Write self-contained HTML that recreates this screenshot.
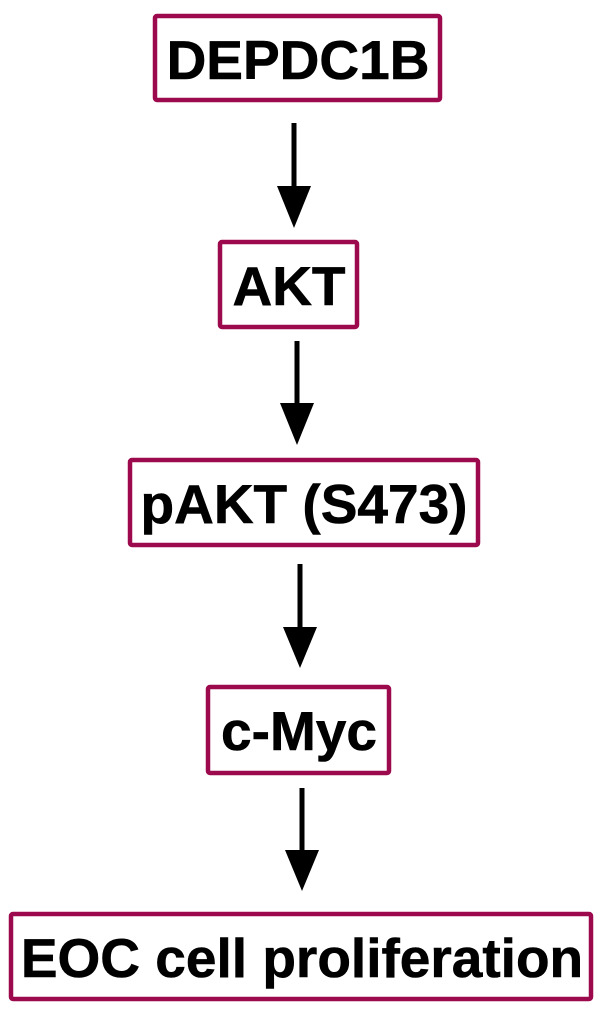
<!DOCTYPE html>
<html><head><style>html,body{margin:0;padding:0;background:#fff}</style></head>
<body>
<svg width="600" height="1014" viewBox="0 0 600 1014" xmlns="http://www.w3.org/2000/svg">
<g fill="#fff" stroke="#9c0a4d" stroke-width="4.5">
<rect x="155" y="16" width="285" height="84" rx="2"/>
<rect x="220" y="242" width="137" height="85" rx="2"/>
<rect x="130" y="460" width="348" height="85" rx="2"/>
<rect x="208" y="687" width="181" height="86" rx="2"/>
<rect x="11" y="914" width="580" height="85" rx="2"/>
</g>
<g stroke="#000" stroke-width="5">
<line x1="294" y1="123" x2="294" y2="190"/>
<line x1="297" y1="341" x2="297" y2="406"/>
<line x1="300" y1="564" x2="300" y2="630"/>
<line x1="302" y1="788" x2="302" y2="853"/>
</g>
<g fill="#000">
<polygon points="277,186 311,186 294,228"/>
<polygon points="280,403 314,403 297,445"/>
<polygon points="283,627 317,627 300,668"/>
<polygon points="285,850 319,850 302,891"/>
</g>
<g font-family="Liberation Sans, Arial, sans-serif" font-weight="bold" font-size="55" text-anchor="middle" fill="#000" stroke="#000" stroke-width="0.6">
<text x="298" y="79">DEPDC1B</text>
<text x="289" y="305">AKT</text>
<text x="304" y="523">pAKT (S473)</text>
<text x="299" y="750">c-Myc</text>
<text x="302" y="977">EOC cell proliferation</text>
</g>
</svg>
</body></html>
